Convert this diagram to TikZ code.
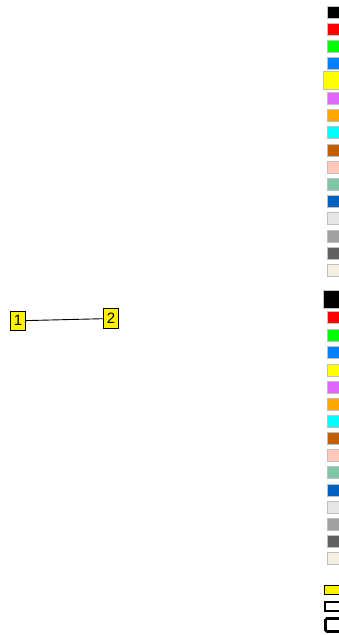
\documentclass[tikz,border=0pt]{standalone}
\usepackage{fontspec}
\setmainfont{Liberation Sans}
\definecolor{cA}{HTML}{000000}
\definecolor{cB}{HTML}{FF0000}
\definecolor{cC}{HTML}{00FF00}
\definecolor{cD}{HTML}{0080FF}
\definecolor{cE}{HTML}{FFFF00}
\definecolor{cF}{HTML}{E066FF}
\definecolor{cG}{HTML}{FFA500}
\definecolor{cH}{HTML}{00FFFF}
\definecolor{cI}{HTML}{C06000}
\definecolor{cJ}{HTML}{FFC8B8}
\definecolor{cK}{HTML}{7FC6A6}
\definecolor{cL}{HTML}{0060C0}
\definecolor{cM}{HTML}{E6E6E6}
\definecolor{cN}{HTML}{A0A0A0}
\definecolor{cO}{HTML}{606060}
\definecolor{cP}{HTML}{F6EEE0}
\tikzset{
  numnode/.style={draw=black, fill=yellow, line width=0.9pt, inner sep=0pt,
    minimum width=15.5pt, minimum height=19.5pt, font=\fontsize{15}{15}\selectfont},
  swatch/.style={draw=black!25, line width=0.3pt, inner sep=0pt, minimum size=12pt},
  bigswatch/.style={draw=black!25, line width=0.3pt, inner sep=0pt, minimum size=18pt},
}
\begin{document}
\begin{tikzpicture}[x=1pt,y=-1pt]
\useasboundingbox (0,0) rectangle (339,635);
% column 1
\foreach \c/\y [count=\i] in {cA/12, cB/29, cC/46.5, cD/63.5, cF/98, cG/115, cH/132, cI/150, cJ/167, cK/184.5, cL/201.5, cM/218.5, cN/236, cO/253, cP/270} {
  \node[swatch, fill=\c] (s\i) at (333,\y) {};
}
\node[bigswatch, fill=cE] (sy) at (332,80) {};
% column 2
\node[bigswatch, fill=cA] (tb) at (332,299) {};
\foreach \c/\y [count=\i] in {cB/317.5, cC/335, cD/352.5, cE/370, cF/387, cG/404, cH/421, cI/438, cJ/455, cK/472.5, cL/490, cM/507, cN/524, cO/541.5, cP/558.5} {
  \node[swatch, fill=\c] (t\i) at (333,\y) {};
}
% bottom legend boxes
\draw[line width=0.8pt, fill=yellow] (324,585.5) rectangle (342,594.5);
\draw[line width=2pt, fill=white] (325,601.5) rectangle (342,611);
\draw[line width=2.8pt, fill=white, rounded corners=1.5pt] (325.5,618.5) rectangle (342,631.5);
% graph
\node[numnode] (n1) at (18,320.8) {1};
\node[numnode] (n2) at (111,318.5) {2};
\draw[line width=0.9pt] (n1) -- (n2);
\end{tikzpicture}
\end{document}
